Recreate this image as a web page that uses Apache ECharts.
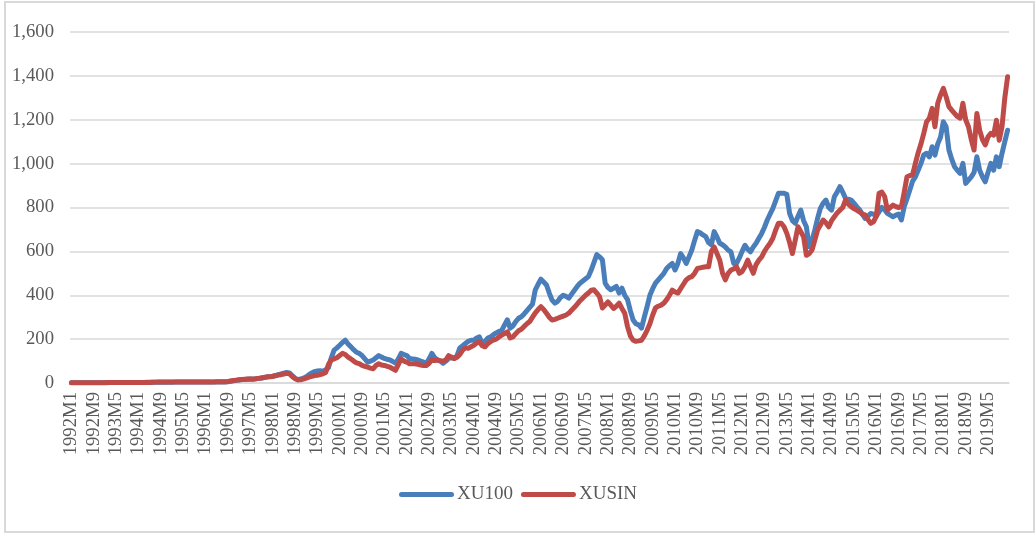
<!DOCTYPE html>
<html>
<head>
<meta charset="utf-8">
<script src="https://cdn.jsdelivr.net/npm/echarts@6/dist/echarts.min.js"></script>
<style>
  html, body { margin: 0; padding: 0; background: #fff; }
  #main { width: 1036px; height: 534px; }
</style>
</head>
<body>
<div id="main"></div>
<script>
// monthly, 1992M1 .. 2019M12
const startYear = 1992
const endYear = 2019
const seriesNames = ['XU100', 'XUSIN']

// XU100, one row per year (Jan..Dec)
const xu100 = [
  1,1,1,1,1,1,1,1,1,1,1,1,
  1,1,2,2,2,2,2,2,2,2,2,2,
  2,2,2,3,3,3,3,3,3,3,3,3,
  3,4,4,4,4,4,4,4,4,4,4,4,
  4,4,4,5,5,5,5,5,6,8,10,12,
  14,16,16,17,18,17,19,21,23,25,27,29,
  31,34,38,41,45,48,46,34,22,15,18,22,
  28,38,46,52,55,56,54,60,70,115,150,160,
  172,185,195,178,165,152,140,135,125,110,95,100,
  105,115,125,118,112,108,105,98,90,110,135,130,
  125,112,110,108,105,100,95,90,110,135,115,105,
  100,90,100,112,115,112,125,160,170,180,190,195,
  195,205,210,180,190,205,210,220,228,235,240,265,
  288,250,260,280,295,302,315,330,345,360,425,450,
  473,460,447,410,378,364,372,390,400,395,387,405,
  423,440,455,465,475,485,515,550,585,575,562,455,
  435,425,432,440,410,432,400,380,330,287,270,265,
  250,300,348,400,430,455,470,485,500,522,535,545,
  515,545,590,570,545,575,606,650,690,685,675,667,
  640,630,690,666,637,630,620,606,598,545,545,570,
  600,628,610,598,620,637,660,682,710,743,770,796,
  830,865,865,865,860,773,740,728,760,788,740,712,
  621,650,697,750,796,820,834,800,788,849,870,895,
  870,842,838,834,820,804,790,770,751,760,773,770,
  760,780,800,790,773,765,758,765,770,743,804,840,
  880,920,940,970,1001,1040,1047,1031,1077,1039,1090,1120,
  1191,1168,1062,1020,986,970,956,1001,910,925,940,960,
  1031,970,940,917,960,1001,970,1031,986,1047,1100,1152
]

// XUSIN
const xusin = [
  1,1,1,1,1,1,1,1,1,1,1,1,
  1,2,2,2,2,2,2,2,2,2,2,2,
  2,2,2,2,2,3,4,5,5,5,5,5,
  5,5,5,5,5,5,5,5,5,5,5,5,
  5,5,5,5,6,6,6,6,7,9,11,13,
  15,16,17,18,18,18,19,21,23,25,28,29,
  30,33,36,38,41,44,42,30,20,15,15,18,
  22,27,30,34,35,38,42,48,85,105,110,115,
  125,135,130,118,110,100,92,88,80,76,72,68,
  65,80,88,82,80,76,72,65,58,85,110,100,
  95,88,88,88,85,82,80,80,90,105,102,105,
  102,100,105,125,118,112,118,130,150,160,158,165,
  172,182,188,170,165,180,188,196,200,210,218,225,
  233,205,210,225,238,245,258,270,280,300,320,335,
  348,335,318,300,287,290,295,300,305,310,318,332,
  345,360,375,387,400,410,423,425,410,393,342,355,
  370,355,340,350,364,340,318,257,215,195,190,192,
  195,215,240,270,310,342,350,355,364,380,400,423,
  415,410,430,450,470,480,485,500,522,525,528,530,
  530,600,620,590,560,500,470,500,515,520,530,500,
  508,530,560,530,500,540,560,575,600,620,637,660,
  697,728,728,712,682,640,590,650,712,690,667,582,
  590,606,650,697,720,743,730,712,740,758,775,788,
  800,834,815,804,795,788,780,770,766,745,728,735,
  760,865,870,850,788,800,811,804,800,804,870,940,
  945,950,1001,1050,1090,1138,1191,1207,1252,1168,1275,1313,
  1343,1305,1260,1244,1229,1215,1207,1275,1200,1168,1110,1062,
  1229,1152,1110,1085,1122,1138,1130,1198,1107,1168,1300,1396
]

const months = []
for (let y = startYear; y <= endYear; y++) {
  for (let m = 1; m <= 12; m++) months.push(y + 'M' + m)
}

const font = 'Liberation Serif'
const textColor = '#595959'

let chart = echarts.init(document.getElementById('main'))
chart.setOption({
  animation: false,
  color: ['#4a7ebb', '#be4b48'],
  graphic: [{
    type: 'rect',
    shape: { x: 5, y: 2, width: 1029, height: 530 },
    style: { fill: 'none', stroke: '#d9d9d9', lineWidth: 2 },
    silent: true
  }],
  grid: { left: 70, right: 27, top: 32, bottom: 151 },
  legend: {
    data: seriesNames,
    bottom: 25,
    left: 'center',
    itemWidth: 55,
    itemHeight: 5,
    itemGap: 8,
    icon: 'path://M2.5,0 H52.5 A2.5,2.5 0 0 1 52.5,5 H2.5 A2.5,2.5 0 0 1 2.5,0 Z',
    textStyle: { fontFamily: font, fontSize: 19, color: textColor, padding: [0, 0, 0, -2] }
  },
  xAxis: {
    type: 'category',
    data: months,
    boundaryGap: true,
    axisLine: { lineStyle: { color: '#d9d9d9', width: 1.5 } },
    axisTick: { show: false },
    axisLabel: {
      interval: 7,
      rotate: 90,
      margin: 9,
      fontFamily: font,
      fontSize: 18.7,
      color: textColor
    }
  },
  yAxis: {
    type: 'value',
    min: 0,
    max: 1600,
    interval: 200,
    axisLine: { show: false },
    axisTick: { show: false },
    splitLine: { lineStyle: { color: '#d9d9d9', width: 1.5 } },
    axisLabel: {
      margin: 16,
      fontFamily: font,
      fontSize: 18.7,
      color: textColor,
      formatter: v => v.toLocaleString('en-US')
    }
  },
  series: [
    {
      name: 'XU100',
      type: 'line',
      data: xu100,
      symbol: 'none',
      lineStyle: { width: 5, join: 'round', cap: 'round' }
    },
    {
      name: 'XUSIN',
      type: 'line',
      data: xusin,
      symbol: 'none',
      lineStyle: { width: 5, join: 'round', cap: 'round' }
    }
  ]
})
</script>
</body>
</html>
